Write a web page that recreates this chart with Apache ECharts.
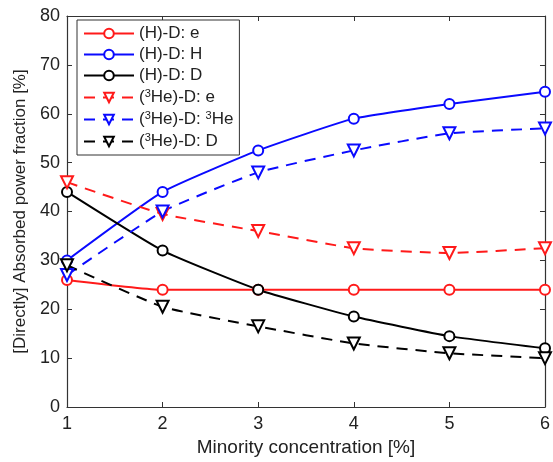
<!DOCTYPE html>
<html>
<head>
<meta charset="UTF-8">
<title>Absorbed power fraction</title>
<script src="https://cdn.jsdelivr.net/npm/echarts@6/dist/echarts.min.js"></script>
<style>
  html, body { margin: 0; padding: 0; background: #fff; }
  #chart { width: 553px; height: 462px; }
</style>
</head>
<body>
<div id="chart"></div>
<script>
// minority concentration [%]
var conc = [1, 2, 3, 4, 5, 6];

// (H)-D scenario
var hd_e = [26, 24, 24, 24, 24, 24];
var hd_H = [30, 44, 52.5, 59, 62, 64.5];
var hd_D = [44, 32, 24, 18.5, 14.5, 12];

// (3He)-D scenario
var hed_e = [46, 39.5, 36, 32.5, 31.5, 32.5];
var hed_He = [27, 40, 48, 52.5, 56, 57];
var hed_D = [29, 20.5, 16.5, 13, 11, 10];

var yTicks = [0, 10, 20, 30, 40, 50, 60, 70, 80];

var font = 'Liberation Sans';
var chart = echarts.init(document.getElementById('chart'));

function pairs(ys) {
    return conc.map(function (x, i) { return [x, ys[i]]; });
}

function lineSeries(name, ys, color, dashed) {
    return {
        name: name,
        type: 'line',
        data: pairs(ys),
        symbol: dashed ? 'emptyTriangle' : 'emptyCircle',
        symbolRotate: dashed ? 180 : 0,
        symbolSize: dashed ? 12 : 10,
        showAllSymbol: true,
        smooth: 0.15,
        lineStyle: { color: color, width: 2, type: dashed ? [11, 8] : 'solid' },
        itemStyle: { color: color, borderColor: color, borderWidth: 1.8 },
        emphasis: { disabled: true },
        animation: false
    };
}

var names = ['(H)-D: e', '(H)-D: H', '(H)-D: D',
             '(3He)-D: e', '(3He)-D: 3He', '(3He)-D: D'];

var option = {
    textStyle: { fontFamily: font },
    grid: { left: 67, right: 4, top: 16, bottom: 50 },
    legend: {
        orient: 'vertical',
        left: 77,
        top: 20,
        padding: [5, 6, 5, 6],
        itemWidth: 50,
        itemHeight: 12,
        itemGap: 4,
        borderColor: '#333',
        borderWidth: 1,
        backgroundColor: '#fff',
        data: names,
        formatter: function (n) {
            return n.replace(/\(3He\)/, '({sup|3}He)').replace(/: 3He/, ': {sup|3}He');
        },
        textStyle: {
            fontFamily: font, fontSize: 17, color: '#222',
            rich: { sup: { fontFamily: font, fontSize: 11, color: '#222', padding: [0, 0, 8, 0] } }
        }
    },
    xAxis: [{
        type: 'value', min: 1, max: 6, interval: 1,
        name: 'Minority concentration [%]',
        nameLocation: 'middle', nameGap: 31,
        nameTextStyle: { fontFamily: font, fontSize: 19, color: '#222' },
        axisLine: { show: true, lineStyle: { color: '#333', width: 1.2 } },
        axisTick: { show: true, inside: true, length: 5, lineStyle: { color: '#333' } },
        axisLabel: { fontFamily: font, fontSize: 18, color: '#222', margin: 8 },
        splitLine: { show: false }
    }, {
        type: 'value', min: 1, max: 6, interval: 1, position: 'top',
        axisLine: { show: true, onZero: false, lineStyle: { color: '#333', width: 1.2 } },
        axisTick: { show: true, inside: true, length: 5, lineStyle: { color: '#333' } },
        axisLabel: { show: false },
        splitLine: { show: false }
    }],
    yAxis: [{
        type: 'value', min: yTicks[0], max: yTicks[yTicks.length - 1], interval: 10,
        name: '[Directly] Absorbed power fraction [%]',
        nameLocation: 'middle', nameGap: 38,
        nameTextStyle: { fontFamily: font, fontSize: 17, color: '#222' },
        axisLine: { show: true, lineStyle: { color: '#333', width: 1.2 } },
        axisTick: { show: true, inside: true, length: 5, lineStyle: { color: '#333' } },
        axisLabel: { fontFamily: font, fontSize: 18, color: '#222', margin: 7 },
        splitLine: { show: false }
    }, {
        type: 'value', min: 0, max: 80, interval: 10, position: 'right',
        axisLine: { show: true, onZero: false, lineStyle: { color: '#333', width: 1.2 } },
        axisTick: { show: true, inside: true, length: 5, lineStyle: { color: '#333' } },
        axisLabel: { show: false },
        splitLine: { show: false }
    }],
    series: [
        lineSeries(names[0], hd_e, '#ff1a1a', false),
        lineSeries(names[1], hd_H, '#0a0aff', false),
        lineSeries(names[2], hd_D, '#000000', false),
        lineSeries(names[3], hed_e, '#ff1a1a', true),
        lineSeries(names[4], hed_He, '#0a0aff', true),
        lineSeries(names[5], hed_D, '#000000', true)
    ]
};
chart.setOption(option);
</script>
</body>
</html>
